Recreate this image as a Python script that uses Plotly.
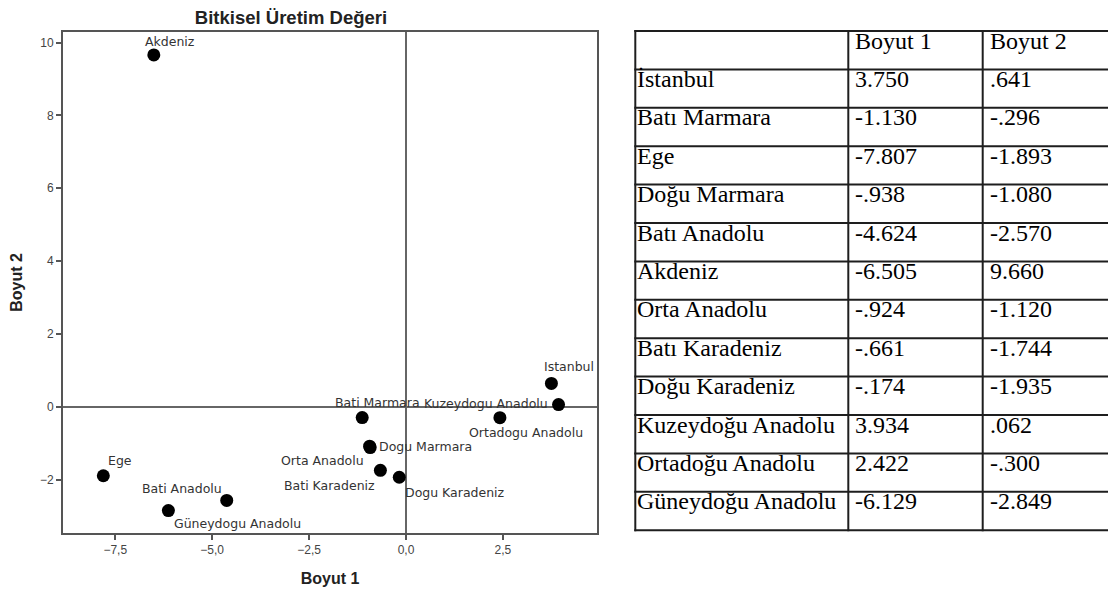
import plotly.graph_objects as go

# ---- data ----
regions_tr = ["İstanbul", "Batı Marmara", "Ege", "Doğu Marmara", "Batı Anadolu", "Akdeniz",
              "Orta Anadolu", "Batı Karadeniz", "Doğu Karadeniz", "Kuzeydoğu Anadolu",
              "Ortadoğu Anadolu", "Güneydoğu Anadolu"]
plot_labels = ["Istanbul", "Bati Marmara", "Ege", "Dogu Marmara", "Bati Anadolu", "Akdeniz",
               "Orta Anadolu", "Bati Karadeniz", "Dogu Karadeniz", "Kuzeydogu Anadolu",
               "Ortadogu Anadolu", "Güneydogu Anadolu"]
boyut1 = [3.750, -1.130, -7.807, -0.938, -4.624, -6.505, -0.924, -0.661, -0.174, 3.934, 2.422, -6.129]
boyut2 = [0.641, -0.296, -1.893, -1.080, -2.570, 9.660, -1.120, -1.744, -1.935, 0.062, -0.300, -2.849]
table_header = ["", "Boyut 1", "Boyut 2"]
title_text = "Bitkisel Üretim Değeri"

# ---- label placement (style, not data): anchor and pixel shifts ----
label_anchor = ["center", "center", "center", "left", "right", "center",
                "right", "right", "left", "right", "center", "left"]
label_dx = [18, 15, 17, 7.5, -3, 16, -4, -3.7, 3.4, -9, 26, 4]
label_dy = [16.5, 15, 15, 0, 12, 13, -13, -15, -15, 1, -15, -13]


def fmt(v):
    s = f"{v:.3f}"
    if s.startswith("0."):
        s = s[1:]
    elif s.startswith("-0."):
        s = "-" + s[2:]
    return s


# page body has an 8px margin: work in screen pixels, convert to figure fractions
OFF = 8
W, H = 1116 - OFF, 591 - OFF


def fx(p):
    return (p - OFF) / W


def fy(p):
    return 1 - (p - OFF) / H


fig = go.Figure()

fig.add_trace(go.Scatter(
    x=boyut1, y=boyut2, mode="markers",
    marker=dict(color="black", size=13, line=dict(width=0)),
    hovertext=plot_labels, showlegend=False,
))

for i, lab in enumerate(plot_labels):
    fig.add_annotation(
        x=boyut1[i], y=boyut2[i], xref="x", yref="y", text=lab, showarrow=False,
        xanchor=label_anchor[i], yanchor="middle", xshift=label_dx[i], yshift=label_dy[i],
        font=dict(family="DejaVu Sans", size=12.5, color="#333333"),
    )

# ---- table (layout geometry in screen pixels) ----
col_edges = [635.3, 848.3, 982.7, 1116]
text_pad = [2, 7, 7]
row_top0, row_h = 31, 38.4
table_rows = [table_header] + [[regions_tr[i], fmt(boyut1[i]), fmt(boyut2[i])]
                               for i in range(len(regions_tr))]
nrows = len(table_rows)
line_style = dict(color="#1e1e1e", width=2)

for k in range(nrows + 1):
    yk = row_top0 + k * row_h
    fig.add_shape(type="line", xref="paper", yref="paper",
                  x0=fx(col_edges[0] - 1), x1=fx(col_edges[-1] + 2), y0=fy(yk), y1=fy(yk),
                  line=line_style)
for c in range(len(col_edges) - 1):
    fig.add_shape(type="line", xref="paper", yref="paper",
                  x0=fx(col_edges[c]), x1=fx(col_edges[c]),
                  y0=fy(row_top0 - 1), y1=fy(row_top0 + nrows * row_h + 1),
                  line=line_style)

for k, row in enumerate(table_rows):
    yk = row_top0 + k * row_h
    for c, txt in enumerate(row):
        if not txt:
            continue
        fig.add_annotation(
            x=fx(col_edges[c] + text_pad[c] - 2), y=fy(yk + 9.6), xref="paper", yref="paper",
            text=txt, showarrow=False, xanchor="left", yanchor="middle",
            font=dict(family="Liberation Serif", size=24, color="black"),
        )

fig.update_layout(
    width=W, height=H, margin=dict(l=0, r=0, t=0, b=0),
    paper_bgcolor="white", plot_bgcolor="white",
    separators=",.",
    font=dict(family="Liberation Sans", color="#333333"),
    title=dict(text=title_text, x=fx(291), xanchor="center", y=fy(18), yanchor="middle",
               font=dict(family="Liberation Sans", size=18.5, color="#222222", weight="bold")),
    xaxis=dict(domain=[fx(63), fx(597)], range=[-8.847, 4.926], automargin=False,
               tick0=0, dtick=2.5, tickformat=".1f", ticks="outside", ticklen=5,
               tickcolor="#555555", tickwidth=1.5,
               showgrid=False, showline=True, mirror=True, linecolor="#555555", linewidth=2,
               zeroline=True, zerolinecolor="#666666", zerolinewidth=1.5,
               tickfont=dict(family="Liberation Sans", size=12, color="#444444"),
               title=dict(text="Boyut 1", standoff=16,
                          font=dict(family="Liberation Sans", size=16, color="#222222", weight="bold"))),
    yaxis=dict(domain=[fy(533), fy(32)], range=[-3.465, 10.29], automargin=False,
               tick0=0, dtick=2, tickformat="d", ticks="outside", ticklen=5,
               tickcolor="#555555", tickwidth=1.5,
               showgrid=False, showline=True, mirror=True, linecolor="#555555", linewidth=2,
               zeroline=True, zerolinecolor="#666666", zerolinewidth=1.5,
               tickfont=dict(family="Liberation Sans", size=12, color="#444444"),
               title=dict(text="Boyut 2", standoff=14,
                          font=dict(family="Liberation Sans", size=16, color="#222222", weight="bold"))),
)

fig.write_html("out.html")
